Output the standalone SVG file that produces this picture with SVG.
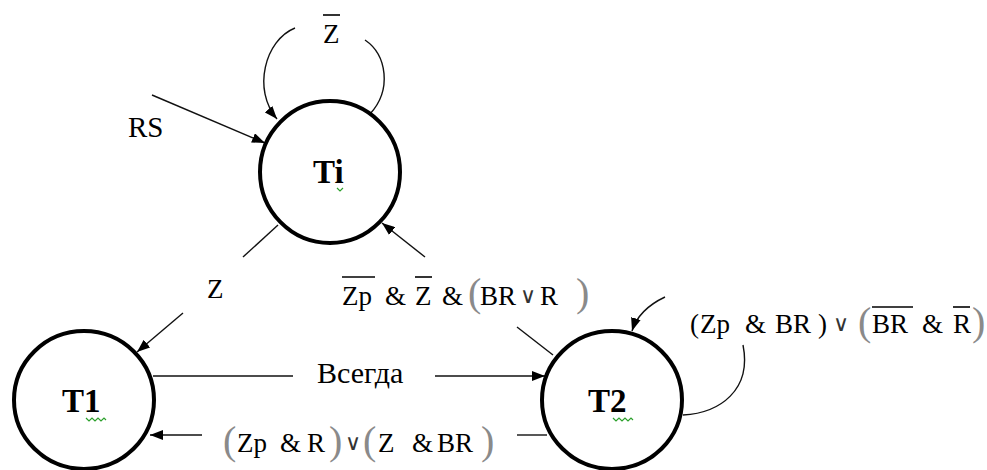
<svg xmlns="http://www.w3.org/2000/svg" width="987" height="470" viewBox="0 0 987 470">
<style>
.node{fill:#fff;stroke:#000;stroke-width:4}
.nl{font-size:33px;font-weight:bold;fill:#000}
.c{fill:none;stroke:#111;stroke-width:1.4}
.ar{marker-end:url(#ah)}
.t{font-size:27px;fill:#000}
.v{font-size:22px;fill:#333}
.p{font-size:40px;fill:#8a8a8a}
.ov{stroke:#000;stroke-width:1.6}
.sq{fill:none;stroke:#2ca02c;stroke-width:1.2}
</style>
<defs>
<marker id="ah" markerUnits="userSpaceOnUse" markerWidth="14" markerHeight="10" refX="13" refY="5" orient="auto">
<path d="M0,0 L13,5 L0,10 z" fill="#000"/>
</marker>
</defs>
<g id="connectors">
<path class="c ar" d="M295,28 C265,40 252,90 277,119"/>
<path class="c" d="M365,40 C387,55 392,90 370,114"/>
<line class="c ar" x1="152" y1="95" x2="265" y2="143"/>
<line class="c" x1="278" y1="225" x2="243" y2="257"/>
<line class="c ar" x1="183" y1="313" x2="137" y2="352"/>
<line class="c ar" x1="425" y1="257" x2="382" y2="223"/>
<line class="c" x1="517" y1="327" x2="553" y2="355"/>
<line class="c" x1="153" y1="376" x2="293" y2="376"/>
<line class="c ar" x1="435" y1="376" x2="545" y2="376"/>
<line class="c ar" x1="202" y1="435" x2="150" y2="435"/>
<line class="c" x1="517" y1="435" x2="547" y2="435"/>
<path class="c ar" d="M665,297 C648,305 637,315 632,331"/>
<path class="c" d="M683,415 C720,413 752,390 743,345"/>
</g>
<g id="Ti" font-family="Liberation Serif">
<ellipse class="node" cx="330" cy="172" rx="70" ry="71"/>
<text class="nl" x="313" y="183" font-family="Liberation Serif">Ti</text>
<polyline class="sq" points="337,188 340,191 343,188"/>
</g>
<g id="T1" font-family="Liberation Serif">
<ellipse class="node" cx="84" cy="400" rx="70" ry="69"/>
<text class="nl" x="62" y="412" font-family="Liberation Serif">T1</text>
<polyline class="sq" points="86,418 89,421 92,418 95,421 98,418 101,421 104,418 106,420"/>
</g>
<g id="T2" font-family="Liberation Serif">
<ellipse class="node" cx="612" cy="400" rx="70" ry="69"/>
<text class="nl" x="588" y="412" font-family="Liberation Serif">T2</text>
<polyline class="sq" points="613,418 616,421 619,418 622,421 625,418 628,421 631,418 633,420"/>
</g>
<g id="labels" font-family="Liberation Serif">
<text class="t" x="323" y="43" font-family="Liberation Serif">Z</text>
<line class="ov" x1="323" y1="15" x2="340" y2="15"/>
<text class="t" x="128" y="137" font-family="Liberation Serif" style="font-size:29px">RS</text>
<text class="t" x="207" y="298" font-family="Liberation Serif">Z</text>
<text class="t" x="317" y="383" font-family="Liberation Serif" style="font-size:30px">Всегда</text>

<text class="t" x="342" y="305" font-family="Liberation Serif">Zp</text>
<line class="ov" x1="342" y1="277" x2="375" y2="277"/>
<text class="t" x="385" y="305" font-family="Liberation Serif">&amp;</text>
<text class="t" x="415" y="305" font-family="Liberation Serif">Z</text>
<line class="ov" x1="415" y1="277" x2="432" y2="277"/>
<text class="t" x="442" y="305" font-family="Liberation Serif">&amp;</text>
<text class="p" x="468" y="306" font-family="Liberation Serif">(</text>
<text class="t" x="480" y="305" font-family="Liberation Serif">BR</text>
<text class="v" x="520" y="303" font-family="DejaVu Serif">∨</text>
<text class="t" x="540" y="305" font-family="Liberation Serif">R</text>
<text class="p" x="576" y="306" font-family="Liberation Serif">)</text>

<text class="t" x="690" y="333" font-family="Liberation Serif">(</text>
<text class="t" x="700" y="333" font-family="Liberation Serif">Zp</text>
<text class="t" x="745" y="333" font-family="Liberation Serif">&amp;</text>
<text class="t" x="775" y="333" font-family="Liberation Serif">BR</text>
<text class="t" x="818" y="333" font-family="Liberation Serif">)</text>
<text class="v" x="833" y="331" font-family="DejaVu Serif">∨</text>
<text class="p" x="858" y="335" font-family="Liberation Serif">(</text>
<text class="t" x="872" y="333" font-family="Liberation Serif">BR</text>
<line class="ov" x1="872" y1="307" x2="913" y2="307"/>
<text class="t" x="922" y="333" font-family="Liberation Serif">&amp;</text>
<text class="t" x="953" y="333" font-family="Liberation Serif">R</text>
<line class="ov" x1="953" y1="307" x2="970" y2="307"/>
<text class="p" x="972" y="335" font-family="Liberation Serif">)</text>

<text class="p" x="223" y="454" font-family="Liberation Serif">(</text>
<text class="t" x="237" y="452" font-family="Liberation Serif">Zp</text>
<text class="t" x="280" y="452" font-family="Liberation Serif">&amp;</text>
<text class="t" x="307" y="452" font-family="Liberation Serif">R</text>
<text class="p" x="329" y="454" font-family="Liberation Serif">)</text>
<text class="v" x="345" y="450" font-family="DejaVu Serif">∨</text>
<text class="p" x="363" y="454" font-family="Liberation Serif">(</text>
<text class="t" x="378" y="452" font-family="Liberation Serif">Z</text>
<text class="t" x="412" y="452" font-family="Liberation Serif">&amp;</text>
<text class="t" x="437" y="452" font-family="Liberation Serif">BR</text>
<text class="p" x="481" y="454" font-family="Liberation Serif">)</text>
</g>
</svg>
